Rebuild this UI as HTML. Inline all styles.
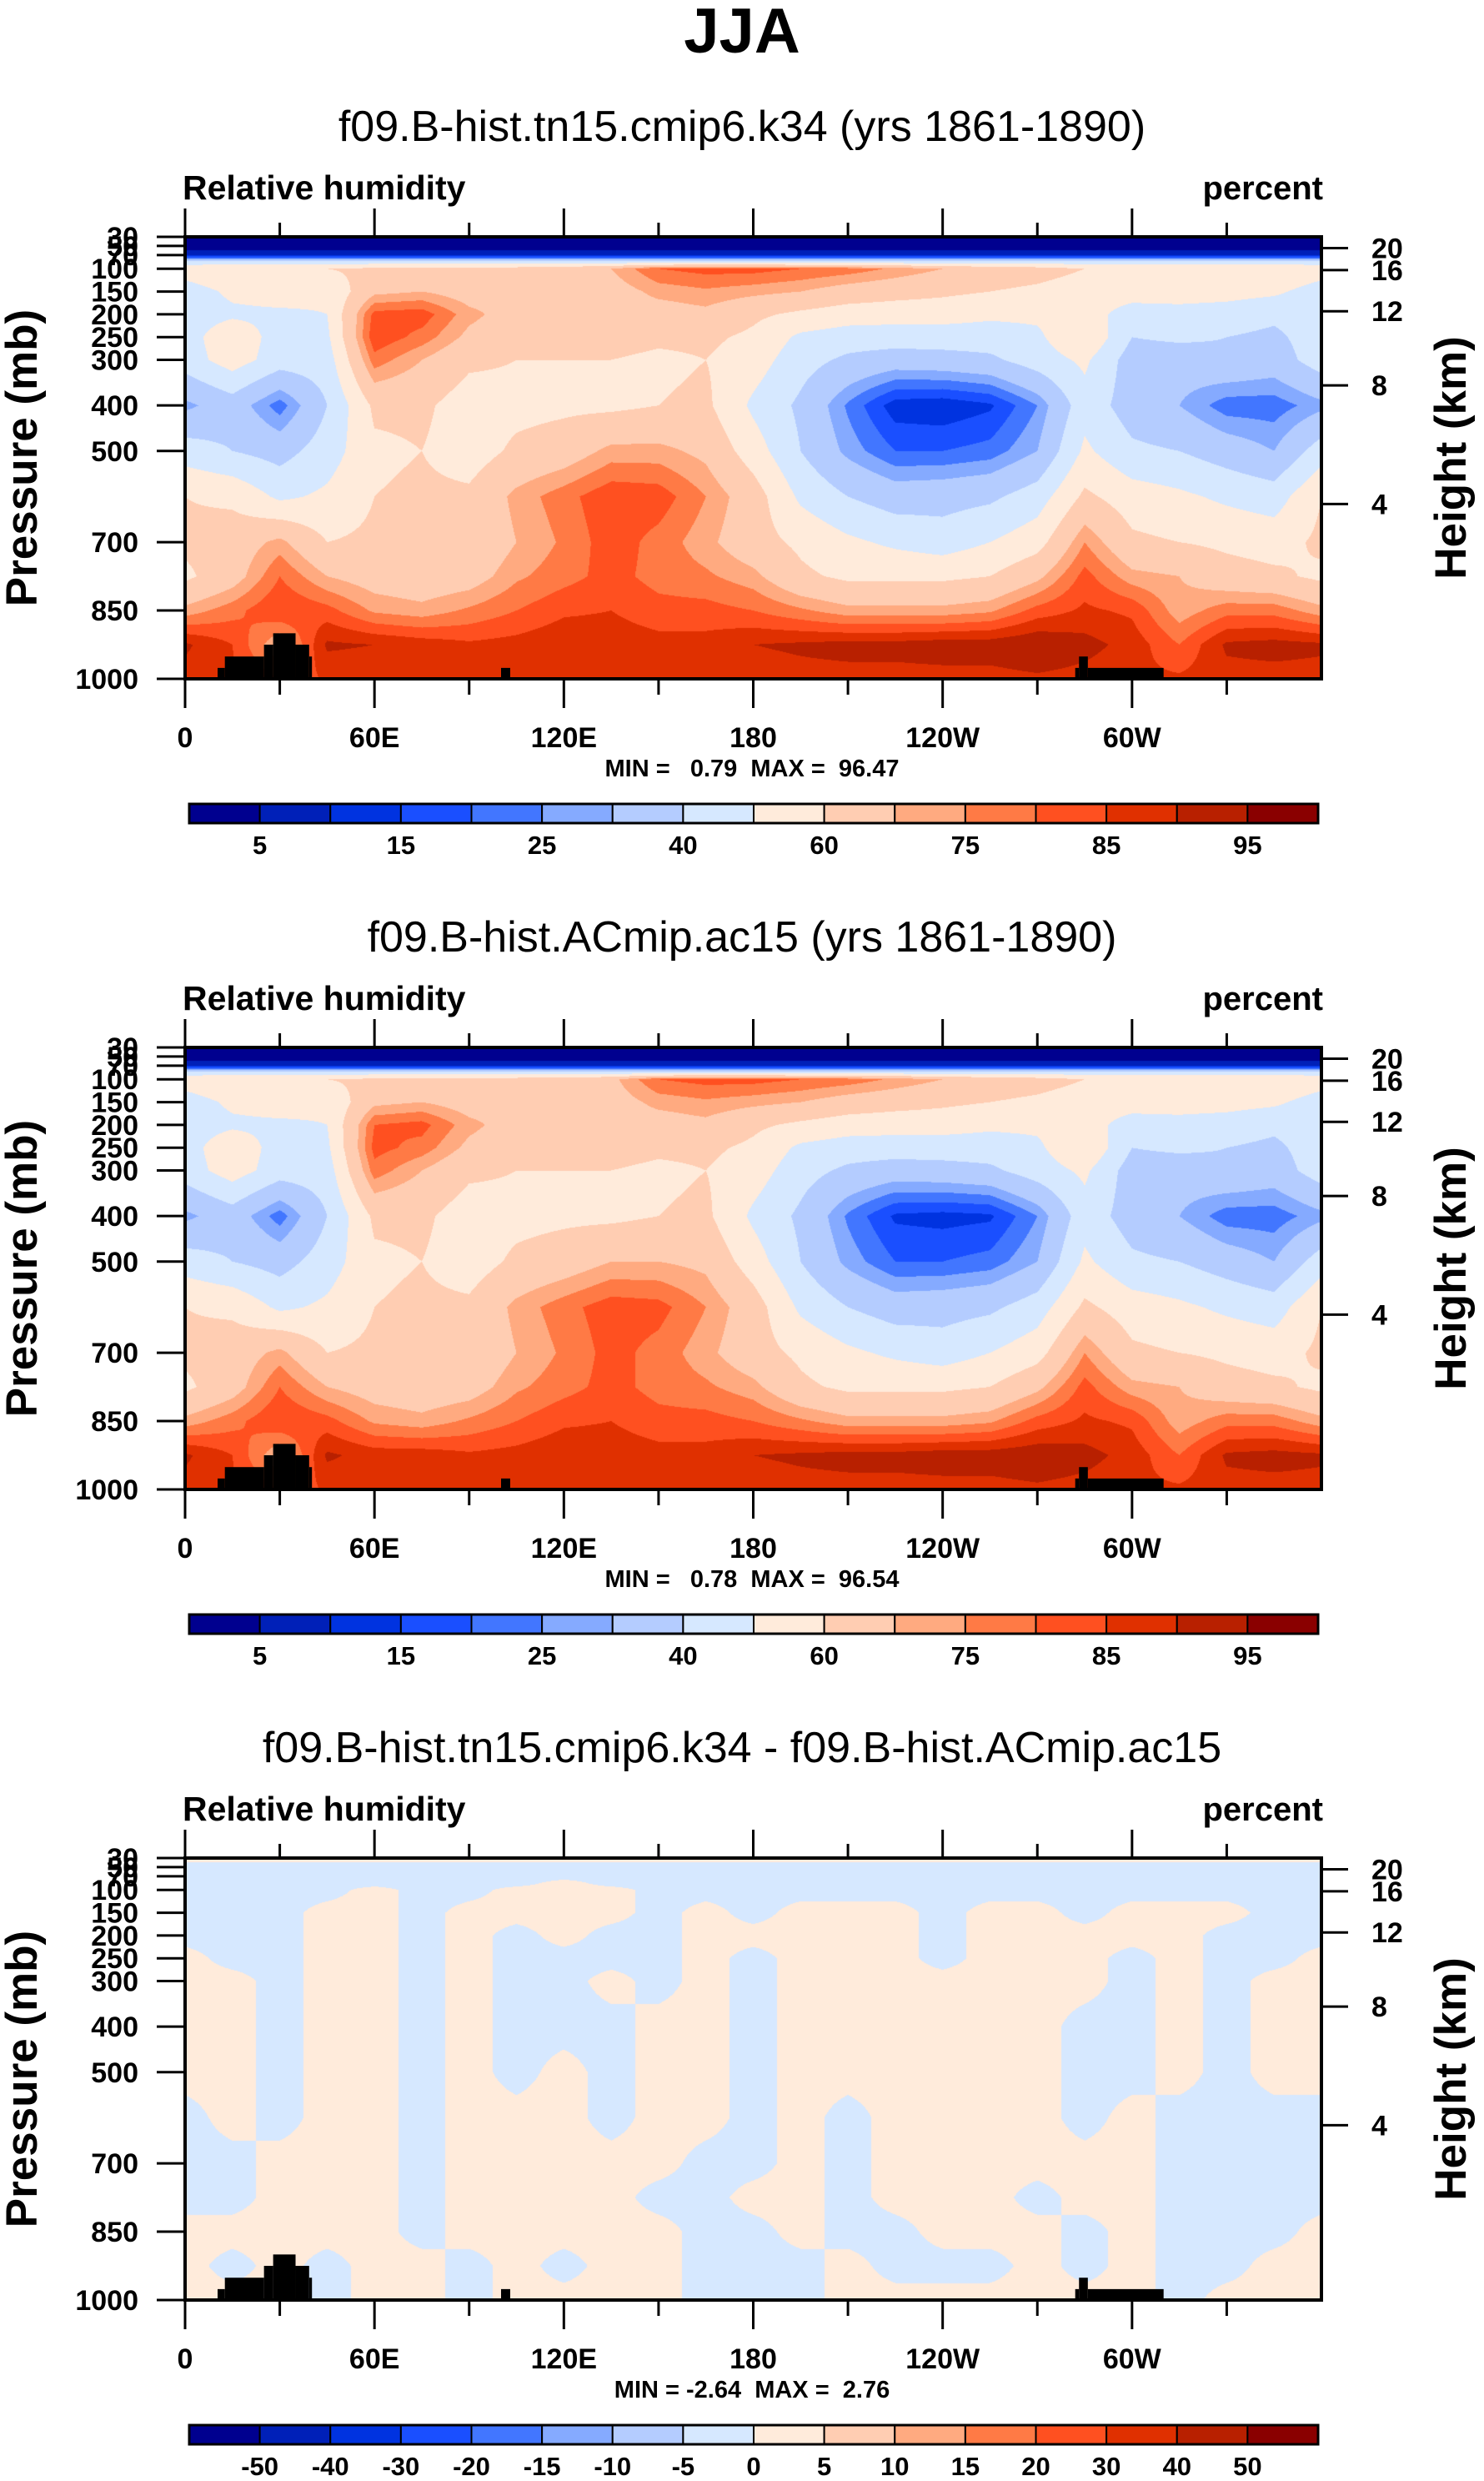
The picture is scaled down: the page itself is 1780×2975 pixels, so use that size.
<!DOCTYPE html>
<html><head><meta charset="utf-8">
<style>
html,body{margin:0;padding:0;background:#fff;}
#wrap{position:relative;width:1780px;height:2975px;overflow:hidden;background:#fff;}
canvas{position:absolute;}
svg{position:absolute;left:0;top:0;}
text{font-family:"Liberation Sans",sans-serif;}
</style></head>
<body>
<div id="wrap">
<canvas id="c0" width="1363" height="530" style="left:222px;top:284px"></canvas>
<canvas id="c1" width="1363" height="530" style="left:222px;top:1256px"></canvas>
<canvas id="c2" width="1363" height="530" style="left:222px;top:2228px"></canvas>
<svg id="svg" width="1780" height="2975"></svg>
</div>
<script>
// ---- data ----
const LON = [0,15,30,45,60,75,90,105,120,135,150,165,180,195,210,225,240,255,270,285,300,315,330,345,360];
const LEV = [30,50,70,85,100,150,200,250,300,400,500,600,700,775,850,925,1000];
// panel 1 relative humidity, one profile per longitude (levels as LEV)
const rhCase1 = [
[1,2,8,45,55,45,45,45,45,28,45,60,62,58,72,91,88],
[1,2,8,45,60,52,48,58,55,35,40,58,65,66,78,85,86],
[1,2,8,45,58,55,48,45,45,22,36,48,72,80,85,70,80],
[1,2,8,45,60,52,50,48,45,40,45,52,60,70,82,91,86],
[1,2,8,45,62,68,82,84,78,62,58,60,62,66,74,90,86],
[1,2,8,45,64,70,83,78,70,62,60,62,62,64,72,88,85],
[1,2,8,45,62,66,72,68,62,55,55,62,62,66,76,86,86],
[1,2,8,45,64,68,66,64,60,57,62,72,70,74,80,87,86],
[1,2,8,45,66,65,66,64,60,58,65,78,76,78,84,89,86],
[1,2,8,45,70,66,66,64,60,58,72,84,83,82,85,88,86],
[1,2,8,45,80,72,66,62,58,60,72,83,78,78,82,87,86],
[1,2,8,45,82,74,68,62,60,62,68,75,72,76,82,87,86],
[1,2,8,45,82,72,62,58,55,48,55,65,64,72,80,90,87],
[1,2,8,45,80,70,58,48,44,38,40,48,58,62,76,91,88],
[1,2,8,45,78,66,55,45,38,24,28,40,52,58,72,92,88],
[1,2,8,45,74,64,54,45,35,12,20,35,48,58,72,92,88],
[1,2,8,45,70,62,54,45,36,11,20,36,45,58,72,93,88],
[1,2,8,45,66,60,52,45,38,14,22,38,50,60,74,93,88],
[1,2,8,45,64,58,52,48,45,25,30,45,56,68,82,95,89],
[1,2,8,45,60,55,55,60,52,46,52,62,75,82,86,92,88],
[1,2,8,45,60,55,45,40,35,35,42,55,62,72,84,88,86],
[1,2,8,45,60,55,46,42,34,30,40,52,60,70,72,80,86],
[1,2,8,45,60,54,45,40,38,22,35,48,58,64,78,91,88],
[1,2,8,45,60,52,42,38,35,22,30,45,56,62,78,92,88],
[1,2,8,45,55,45,45,45,45,28,45,60,62,58,72,91,88]
];
// panel 2 relative humidity
const rhCase2 = [
[1,2,8,45,55,45,45,45,45,28,45,60,62,58,72,91,88],
[1,2,8,45,60,52,48,58,55,35,40,58,65,66,78,85,86],
[1,2,8,45,58,55,48,45,45,22,36,48,72,80,85,70,80],
[1,2,8,45,60,52,50,48,45,40,45,52,60,70,82,91,86],
[1,2,8,45,62,68,80,82,78,62,58,60,62,66,74,88,86],
[1,2,8,45,64,70,82,78,70,62,60,62,62,64,72,88,85],
[1,2,8,45,62,66,72,68,62,55,55,62,62,66,76,86,86],
[1,2,8,45,64,68,66,64,60,57,62,72,70,74,80,87,86],
[1,2,8,45,66,65,66,64,60,58,65,78,76,78,84,89,86],
[1,2,8,45,68,66,66,64,60,58,70,83,82,82,85,88,86],
[1,2,8,45,80,72,66,62,58,60,70,82,78,78,82,87,86],
[1,2,8,45,82,74,68,62,60,62,68,75,72,76,82,87,86],
[1,2,8,45,82,72,62,58,55,48,55,65,64,72,80,90,87],
[1,2,8,45,80,70,58,48,44,38,40,48,58,62,76,91,88],
[1,2,8,45,78,66,55,45,38,24,28,40,52,58,72,92,88],
[1,2,8,45,74,64,54,45,35,14,20,35,48,58,72,92,88],
[1,2,8,45,70,62,54,45,36,13,20,36,45,58,72,93,88],
[1,2,8,45,66,60,52,45,38,14,22,38,50,60,74,93,88],
[1,2,8,45,64,58,52,48,45,25,30,45,56,68,82,94,89],
[1,2,8,45,60,55,55,60,52,46,52,62,75,82,86,92,88],
[1,2,8,45,60,55,45,40,35,35,42,55,62,72,84,88,86],
[1,2,8,45,60,55,46,42,34,30,40,52,60,70,72,80,86],
[1,2,8,45,60,54,45,40,38,22,35,48,58,64,78,91,88],
[1,2,8,45,60,52,42,38,35,22,30,45,56,62,78,92,88],
[1,2,8,45,55,45,45,45,45,28,45,60,62,58,72,91,88]
];
// difference (case1 - case2), one profile per longitude
const rhDiff = [
[1,-1,-1,-1,-1,-1,-1,1,1,1,1,-1,-1,-1,1,1,1],
[1,-1,-1,-1,-1,-1,-1,-1,1,1,1,1,-1,-1,1,-1,1],
[1,-1,-1,-1,-1,-1,-1,-1,-1,-1,-1,-1,1,1,1,1,1],
[1,-1,-1,-1,-1,1,1,1,1,1,1,1,1,1,1,-1,-1],
[1,-1,-1,-1,1,1,1,1,1,1,1,1,1,1,1,1,1],
[1,-1,-1,-1,-1,-1,-1,-1,-1,-1,-1,-1,-1,-1,-1,1,1],
[1,-1,-1,-1,-1,1,1,1,1,1,1,1,1,1,1,-1,-1],
[1,-1,-1,-1,1,1,-1,-1,-1,-1,-1,1,1,1,1,1,1],
[1,-1,-1,1,1,1,1,-1,-1,-1,1,1,1,1,1,-1,1],
[1,-1,-1,-1,1,1,-1,-1,1,-1,-1,-1,1,1,1,1,1],
[1,-1,-1,-1,-1,-1,-1,-1,-1,1,1,1,1,-1,1,1,1],
[1,-1,-1,-1,-1,1,1,1,1,1,1,1,-1,-1,-1,-1,-1],
[1,-1,-1,-1,-1,-1,1,-1,-1,-1,-1,-1,-1,1,-1,-1,-1],
[1,-1,-1,-1,-1,1,1,1,1,1,1,1,1,1,1,-1,-1],
[1,-1,-1,-1,-1,1,1,1,1,1,1,-1,-1,-1,-1,1,1],
[1,-1,-1,-1,-1,1,1,1,1,1,1,1,1,1,-1,-1,1],
[1,-1,-1,-1,-1,-1,-1,-1,1,1,1,1,1,1,1,-1,1],
[1,-1,-1,-1,-1,1,1,1,1,1,1,1,1,1,1,-1,1],
[1,-1,-1,-1,-1,1,1,1,1,1,1,1,1,-1,1,1,1],
[1,-1,-1,-1,-1,-1,1,1,1,-1,-1,-1,1,1,-1,-1,1],
[1,-1,-1,-1,-1,1,1,-1,-1,-1,-1,1,1,1,1,1,1],
[1,-1,-1,-1,-1,1,1,1,1,1,1,-1,-1,-1,-1,-1,-1],
[1,-1,-1,-1,-1,1,-1,-1,-1,-1,-1,-1,-1,-1,-1,-1,1],
[1,-1,-1,-1,-1,-1,-1,-1,1,1,1,-1,-1,-1,-1,1,1],
[1,-1,-1,-1,-1,-1,-1,1,1,1,1,-1,-1,-1,1,1,1]
];
const topoLonStart = [10.3,12.6,25,27.9,35,39.3,100.1,282,283.2,286];
const topoLonEnd   = [12.6,25,27.9,35,39.3,40.2,103,283.2,286,310];
const topoPs       = [976,951,925,900,925,951,976,976,951,976];
const rhBounds   = [5,10,15,20,25,30,40,50,60,70,75,80,85,90,95];
const rhLabels   = ["5","15","25","40","60","75","85","95"];
const diffBounds = [-50,-40,-30,-20,-15,-10,-5,0,5,10,15,20,30,40,50];
const diffLabels = ["-50","-40","-30","-20","-15","-10","-5","0","5","10","15","20","30","40","50"];
const COLORS = ["#00008f","#0020b8","#0033e0","#1a4fff","#4276ff","#85aaff","#b4ccff","#d6e8ff","#ffebdb","#ffcdb2","#ffaa80","#ff7a45","#ff5020","#e03000","#b82000","#8a0000"];
const pTicks = [30,50,70,100,150,200,250,300,400,500,700,850,1000];
const kmTicks = [4,8,12,16,20];
const lonMajor = [0,60,120,180,240,300];
const lonMajorLabels = ["0","60E","120E","180","120W","60W"];
const lonMinor = [30,90,150,210,270,330];
const subtitles = ["f09.B-hist.tn15.cmip6.k34 (yrs 1861-1890)","f09.B-hist.ACmip.ac15 (yrs 1861-1890)","f09.B-hist.tn15.cmip6.k34 - f09.B-hist.ACmip.ac15"];
const minmax = ["MIN =   0.79  MAX =  96.47","MIN =   0.78  MAX =  96.54","MIN = -2.64  MAX =  2.76"];

// ---- scales ----
const PL=222, PW=1363, PH=530, TOPS=[284,1256,2228];
function xS(lon){ return PL + lon/360*PW; }
function yS(p, top){ return top + (p-30)/970*PH; }
function kmToP(z){ const m=z*1000; if(m<=11000) return 1013.25*Math.pow(1-2.2558e-5*m,5.256); return 226.32*Math.exp(-(m-11000)/6341.6); }

function hex2rgb(h){ return [parseInt(h.substr(1,2),16),parseInt(h.substr(3,2),16),parseInt(h.substr(5,2),16)]; }
const RGB = COLORS.map(hex2rgb);

function sample(cols, lon, p){
  let i=0; while(i<LON.length-2 && lon>LON[i+1]) i++;
  let t=(lon-LON[i])/(LON[i+1]-LON[i]);
  let j=0; while(j<LEV.length-2 && p>LEV[j+1]) j++;
  let s=(p-LEV[j])/(LEV[j+1]-LEV[j]);
  const a=cols[i][j], b=cols[i+1][j], c=cols[i][j+1], d=cols[i+1][j+1];
  return (a*(1-t)+b*t)*(1-s)+(c*(1-t)+d*t)*s;
}
function drawField(id, cols, bounds){
  const cv=document.getElementById(id), ctx=cv.getContext('2d');
  const img=ctx.createImageData(PW,PH);
  for(let py=0;py<PH;py++){
    const p=30+(py+0.5)/PH*970;
    for(let px=0;px<PW;px++){
      const lon=(px+0.5)/PW*360;
      const v=sample(cols,lon,p);
      let k=0; while(k<bounds.length && v>=bounds[k]) k++;
      const c=RGB[k], o=(py*PW+px)*4;
      img.data[o]=c[0]; img.data[o+1]=c[1]; img.data[o+2]=c[2]; img.data[o+3]=255;
    }
  }
  ctx.putImageData(img,0,0);
}
drawField('c0', rhCase1, rhBounds);
drawField('c1', rhCase2, rhBounds);
drawField('c2', rhDiff, diffBounds);

// ---- svg ----
const NS="http://www.w3.org/2000/svg";
const svg=document.getElementById('svg');
function mk(tag, attrs, name){
  const e=document.createElementNS(NS,tag);
  for(const k in attrs) e.setAttribute(k,attrs[k]);
  
  
  svg.appendChild(e); return e;
}
function txt(x,y,s,size,anchor,weight,name,extra){
  const a={x:x,y:y,'font-size':size,'text-anchor':anchor,'font-weight':weight,fill:'#000'};
  if(extra) for(const k in extra) a[k]=extra[k];
  const t=mk('text',a,name); t.textContent=s; return t;
}
txt(890,63,"JJA",76,"middle","bold","main-title");

for(let k=0;k<3;k++){
  const top=TOPS[k], bot=top+PH;
  txt(890,top-115,subtitles[k],52,"middle","normal","panel-subtitle");
  txt(219,top-45,"Relative humidity",41,"start","bold","variable-label");
  txt(1587,top-45,"percent",40,"end","bold","units-label");
  for(let i=0;i<topoLonStart.length;i++){
    mk('rect',{x:xS(topoLonStart[i]),y:yS(topoPs[i],top),width:xS(topoLonEnd[i])-xS(topoLonStart[i]),height:yS(1000,top)-yS(topoPs[i],top),fill:'#000'},'topography-mask');
  }
  mk('rect',{x:PL,y:top,width:PW,height:PH,fill:'none',stroke:'#000','stroke-width':4},'plot-frame');
  for(let i=0;i<lonMajor.length;i++){
    const x=xS(lonMajor[i]);
    mk('line',{x1:x,y1:top-34,x2:x,y2:top,stroke:'#000','stroke-width':3},'x-major-tick-top');
    mk('line',{x1:x,y1:bot,x2:x,y2:bot+35,stroke:'#000','stroke-width':3},'x-major-tick');
    txt(x,top+612,lonMajorLabels[i],34,"middle","bold","x-tick-label");
  }
  for(let i=0;i<lonMinor.length;i++){
    const x=xS(lonMinor[i]);
    mk('line',{x1:x,y1:top-17,x2:x,y2:top,stroke:'#000','stroke-width':3},'x-minor-tick-top');
    mk('line',{x1:x,y1:bot,x2:x,y2:bot+19,stroke:'#000','stroke-width':3},'x-minor-tick');
  }
  for(let i=0;i<pTicks.length;i++){
    const y=yS(pTicks[i],top);
    mk('line',{x1:188,y1:y,x2:PL,y2:y,stroke:'#000','stroke-width':3},'pressure-tick');
    txt(166,y+12,String(pTicks[i]),34,"end","bold","pressure-tick-label");
  }
  for(let i=0;i<kmTicks.length;i++){
    const y=yS(kmToP(kmTicks[i]),top);
    mk('line',{x1:PL+PW,y1:y,x2:PL+PW+32,y2:y,stroke:'#000','stroke-width':3},'height-tick');
    txt(1645,y+12,String(kmTicks[i]),34,"start","bold","height-tick-label");
  }
  txt(0,0,"Pressure (mb)",53,"middle","bold","y-axis-title",{transform:`translate(44,${top+265}) rotate(-90)`});
  txt(0,0,"Height (km)",53,"middle","bold","right-axis-title",{transform:`translate(1758,${top+265}) rotate(-90)`});
  txt(902,top+647,minmax[k],29,"middle","bold","min-max-label",{style:'white-space:pre'});
  // colorbar
  const cbL=227, cbR=1581, cbT=top+680, cbH=23, bw=(cbR-cbL)/16;
  for(let i=0;i<16;i++){
    mk('rect',{x:cbL+i*bw,y:cbT,width:bw,height:cbH,fill:COLORS[i],stroke:'#000','stroke-width':2},'colorbar-box');
  }
  mk('rect',{x:cbL,y:cbT,width:cbR-cbL,height:cbH,fill:'none',stroke:'#000','stroke-width':3},'colorbar-frame');
  if(k<2){
    for(let i=0;i<rhLabels.length;i++){
      txt(cbL+(1+2*i)*bw,top+740,rhLabels[i],31,"middle","bold","colorbar-label");
    }
  } else {
    for(let i=0;i<diffLabels.length;i++){
      txt(cbL+(1+i)*bw,top+740,diffLabels[i],31,"middle","bold","colorbar-label");
    }
  }
}
</script>
</body></html>
